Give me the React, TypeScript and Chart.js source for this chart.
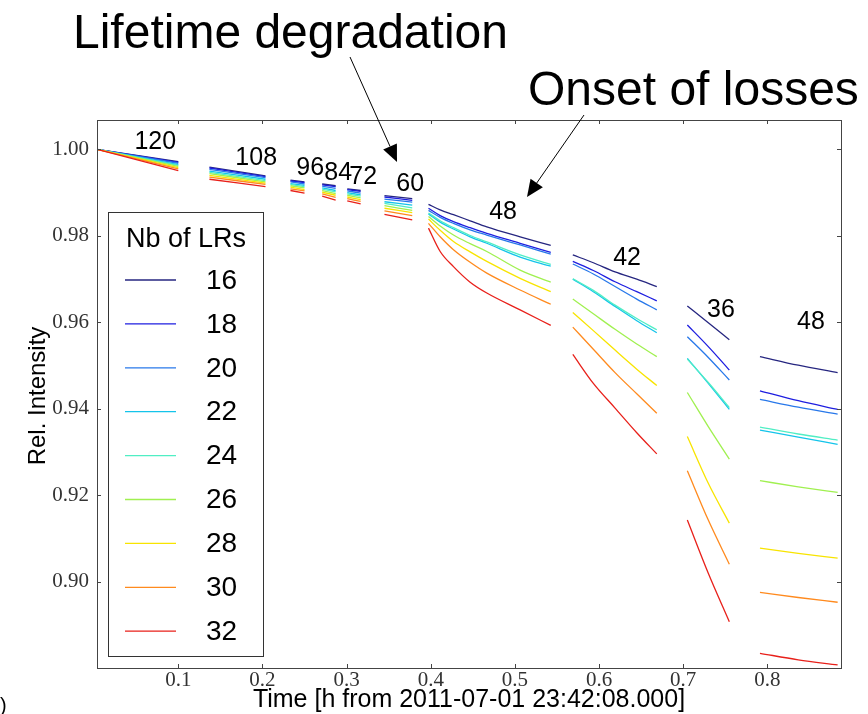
import React, { useEffect, useRef } from 'react';
import { Chart, registerables } from 'chart.js';

Chart.register(...registerables);

// ---------- data ----------
const lrCounts = ['16', '18', '20', '22', '24', '26', '28', '30', '32'];
const lrColors = ['#262680', '#1e1ee0', '#2878ea', '#14c4ea', '#50eec4', '#a0f050', '#f8e400', '#ff8a1e', '#e8201a'];

const xTicks = [0.1, 0.2, 0.3, 0.4, 0.5, 0.6, 0.7, 0.8];
const yTicks = [0.9, 0.92, 0.94, 0.96, 0.98, 1.0];

// time stamps of each fill segment (h)
const segmentTimes = [
  [0.0034, 0.1],
  [0.137, 0.2036],
  [0.2333, 0.25],
  [0.271, 0.287],
  [0.3008, 0.3167],
  [0.345, 0.378],
  [0.3973, 0.4112, 0.427, 0.4468, 0.4666, 0.5062, 0.5426],
  [0.5688, 0.5932, 0.619, 0.6448, 0.6686],
  [0.7049, 0.7298, 0.7548],
  [0.7912, 0.8367, 0.8835],
];

const lr16 = [[1.0, 0.9972], [0.9959, 0.9939], [0.9929, 0.9925], [0.992, 0.9916], [0.9909, 0.9905], [0.9893, 0.9886],
  [0.9873, 0.986, 0.9849, 0.9835, 0.9821, 0.9798, 0.9778], [0.9756, 0.9738, 0.9717, 0.97, 0.9683], [0.9638, 0.9599, 0.956], [0.9521, 0.9501, 0.9484]];
const lr18 = [[1.0, 0.997], [0.9957, 0.9937], [0.9927, 0.9923], [0.9918, 0.9914], [0.9907, 0.9903], [0.989, 0.9882],
  [0.9864, 0.9847, 0.9833, 0.9819, 0.9806, 0.9783, 0.9762], [0.9741, 0.972, 0.9694, 0.9671, 0.965], [0.9594, 0.9544, 0.949], [0.9442, 0.9419, 0.9399]];
const lr20 = [[1.0, 0.9968], [0.9954, 0.9935], [0.9925, 0.992], [0.9915, 0.991], [0.9904, 0.9899], [0.9885, 0.9878],
  [0.9859, 0.9843, 0.9829, 0.9814, 0.9802, 0.9779, 0.9758], [0.9735, 0.9712, 0.9683, 0.9654, 0.9629], [0.9567, 0.9519, 0.9467], [0.9422, 0.9404, 0.9388]];
const lr22 = [[1.0, 0.9965], [0.995, 0.9931], [0.9921, 0.9917], [0.9911, 0.9905], [0.99, 0.9895], [0.9879, 0.9871],
  [0.9851, 0.9832, 0.9816, 0.9798, 0.9783, 0.9751, 0.973], [0.97, 0.9671, 0.9637, 0.9604, 0.9576], [0.9517, 0.9459, 0.9399], [0.9351, 0.9335, 0.9318]];
const lr24 = [[1.0, 0.9963], [0.9947, 0.9928], [0.9919, 0.9914], [0.9908, 0.9902], [0.9897, 0.9892], [0.9875, 0.9865],
  [0.9853, 0.9835, 0.9819, 0.9801, 0.9786, 0.9756, 0.9734], [0.9701, 0.9674, 0.964, 0.9609, 0.9583], [0.9515, 0.9461, 0.9403], [0.9358, 0.9342, 0.9328]];
const lr26 = [[1.0, 0.9961], [0.9944, 0.9925], [0.9916, 0.9911], [0.9905, 0.9898], [0.9894, 0.9888], [0.987, 0.9859],
  [0.9845, 0.9823, 0.9802, 0.9782, 0.9764, 0.9721, 0.9693], [0.9654, 0.962, 0.9584, 0.955, 0.9521], [0.9438, 0.9359, 0.9284], [0.9234, 0.922, 0.9207]];
const lr28 = [[1.0, 0.9958], [0.994, 0.9922], [0.9913, 0.9907], [0.9901, 0.9894], [0.989, 0.9884], [0.9864, 0.9854],
  [0.9839, 0.9813, 0.9787, 0.9763, 0.9741, 0.9702, 0.9671], [0.9623, 0.9581, 0.9536, 0.9492, 0.9454], [0.9336, 0.9228, 0.9136], [0.9078, 0.9066, 0.9055]];
const lr30 = [[1.0, 0.9955], [0.9936, 0.9919], [0.9909, 0.9904], [0.9897, 0.9889], [0.9886, 0.988], [0.9858, 0.9847],
  [0.9829, 0.9798, 0.9768, 0.9739, 0.9714, 0.9675, 0.9642], [0.9589, 0.9538, 0.9484, 0.9435, 0.939], [0.9257, 0.9143, 0.9041], [0.8976, 0.8964, 0.8953]];
const lr32 = [[1.0, 0.9951], [0.9931, 0.9914], [0.9905, 0.9899], [0.9892, 0.9883], [0.9881, 0.9874], [0.985, 0.9837],
  [0.9818, 0.9764, 0.9729, 0.9693, 0.9668, 0.9629, 0.9593], [0.9526, 0.9459, 0.9402, 0.9345, 0.9296], [0.9143, 0.902, 0.8908], [0.8835, 0.882, 0.8808]];

const seriesValues = [lr16, lr18, lr20, lr22, lr24, lr26, lr28, lr30, lr32];

// number of bunches in each fill step
const segmentLabels = ['120', '108', '96', '84', '72', '60', '48', '42', '36', '48'];
const labelTimes = [0.0727, 0.1926, 0.2568, 0.2901, 0.3198, 0.3756, 0.486, 0.6333, 0.7449, 0.8518];
const labelValues = [1.0017, 0.998, 0.9957, 0.9946, 0.9936, 0.992, 0.9856, 0.9749, 0.9629, 0.9601];

const X_MIN = 0.0034;
const X_MAX = 0.8875;
const Y_MIN = 0.8801;
const Y_MAX = 1.0068;

const SANS = '"Liberation Sans", Arial, sans-serif';
const SERIF = '"Liberation Serif", "Times New Roman", serif';

function buildPoints(vals: number[][]) {
  const pts: { x: number; y: number | null }[] = [];
  vals.forEach((seg, s) => {
    if (s > 0) {
      const prev = segmentTimes[s - 1];
      pts.push({ x: (prev[prev.length - 1] + segmentTimes[s][0]) / 2, y: null });
    }
    seg.forEach((v, i) => pts.push({ x: segmentTimes[s][i], y: v }));
  });
  return pts;
}

function arrow(ctx: CanvasRenderingContext2D, x0: number, y0: number, x1: number, y1: number) {
  const ang = Math.atan2(y1 - y0, x1 - x0);
  const len = 17;
  const hw = 7.5;
  const bx = x1 - len * Math.cos(ang);
  const by = y1 - len * Math.sin(ang);
  ctx.save();
  ctx.strokeStyle = '#000';
  ctx.lineWidth = 1;
  ctx.beginPath();
  ctx.moveTo(x0, y0);
  ctx.lineTo(bx, by);
  ctx.stroke();
  ctx.fillStyle = '#000';
  ctx.beginPath();
  ctx.moveTo(x1, y1);
  ctx.lineTo(bx + hw * Math.sin(ang), by - hw * Math.cos(ang));
  ctx.lineTo(bx - hw * Math.sin(ang), by + hw * Math.cos(ang));
  ctx.closePath();
  ctx.fill();
  ctx.restore();
}

const decorPlugin = {
  id: 'decor',
  afterDraw(chart: any) {
    const { ctx, chartArea } = chart;
    const { left, right, top, bottom } = chartArea;
    const xs = chart.scales.x;
    const ys = chart.scales.y;
    ctx.save();

    // frame
    ctx.strokeStyle = '#444';
    ctx.lineWidth = 1;
    ctx.strokeRect(Math.round(left) + 0.5, Math.round(top) + 0.5, Math.round(right - left), Math.round(bottom - top));

    // inward ticks on all sides
    ctx.beginPath();
    xTicks.forEach((v) => {
      const px = Math.round(xs.getPixelForValue(v)) + 0.5;
      ctx.moveTo(px, bottom);
      ctx.lineTo(px, bottom - 4);
      ctx.moveTo(px, top);
      ctx.lineTo(px, top + 4);
    });
    yTicks.forEach((v) => {
      const py = Math.round(ys.getPixelForValue(v)) + 0.5;
      ctx.moveTo(left, py);
      ctx.lineTo(left + 4, py);
      ctx.moveTo(right, py);
      ctx.lineTo(right - 4, py);
    });
    ctx.stroke();

    // segment labels
    ctx.fillStyle = '#000';
    ctx.font = `25px ${SANS}`;
    ctx.textAlign = 'center';
    ctx.textBaseline = 'middle';
    segmentLabels.forEach((lab, i) => {
      ctx.fillText(lab, xs.getPixelForValue(labelTimes[i]), ys.getPixelForValue(labelValues[i]));
    });

    // legend
    const lx = 108.5, ly = 212.5, lw = 155, lh = 444;
    ctx.fillStyle = '#fff';
    ctx.fillRect(lx, ly, lw, lh);
    ctx.strokeStyle = '#333';
    ctx.strokeRect(lx, ly, lw, lh);
    ctx.fillStyle = '#000';
    ctx.font = `27px ${SANS}`;
    ctx.textAlign = 'center';
    ctx.textBaseline = 'middle';
    ctx.fillText('Nb of LRs', lx + lw / 2, 240);
    lrCounts.forEach((lab, i) => {
      const yy = 280 + i * 43.9;
      ctx.strokeStyle = lrColors[i];
      ctx.lineWidth = 1.3;
      ctx.beginPath();
      ctx.moveTo(125, yy);
      ctx.lineTo(176, yy);
      ctx.stroke();
      ctx.fillStyle = '#000';
      ctx.font = `28px ${SANS}`;
      ctx.textAlign = 'left';
      ctx.fillText(lab, 206, yy + 1);
    });

    // axis titles
    ctx.fillStyle = '#000';
    ctx.font = `25px ${SANS}`;
    ctx.textAlign = 'center';
    ctx.textBaseline = 'alphabetic';
    ctx.fillText('Time [h from 2011-07-01 23:42:08.000]', 469, 707);
    ctx.save();
    ctx.translate(38, 396);
    ctx.rotate(-Math.PI / 2);
    ctx.textBaseline = 'middle';
    ctx.font = `24px ${SANS}`;
    ctx.fillText('Rel. Intensity', 0, 0);
    ctx.restore();

    // annotations
    ctx.font = `48px ${SANS}`;
    ctx.textAlign = 'left';
    ctx.textBaseline = 'alphabetic';
    ctx.fillText('Lifetime degradation', 73, 48);
    ctx.fillText('Onset of losses', 528, 105);
    arrow(ctx, 350, 57, 397, 162);
    arrow(ctx, 584, 115, 527, 197);

    ctx.font = `20px ${SANS}`;
    ctx.fillText(')', 0, 712);
    ctx.restore();
  },
};

export default function App() {
  const canvasRef = useRef<HTMLCanvasElement | null>(null);

  useEffect(() => {
    const canvas = canvasRef.current;
    if (!canvas) return;
    const datasets = seriesValues.map((vals, i) => ({
      label: lrCounts[i],
      data: buildPoints(vals),
      borderColor: lrColors[i],
      backgroundColor: lrColors[i],
      borderWidth: 1.3,
      pointRadius: 0,
      fill: false,
      spanGaps: false,
      cubicInterpolationMode: 'monotone' as const,
      order: 9 - i,
    }));
    const chart = new Chart(canvas, {
      type: 'line',
      data: { datasets },
      options: {
        animation: false,
        responsive: false,
        events: [],
        layout: { padding: { top: 120, right: 27, left: 0, bottom: 0 } },
        plugins: { legend: { display: false }, tooltip: { enabled: false } },
        scales: {
          x: {
            type: 'linear',
            min: X_MIN,
            max: X_MAX,
            grid: { display: false, drawTicks: false },
            border: { display: false },
            afterBuildTicks: (s: any) => {
              s.ticks = xTicks.map((v) => ({ value: v }));
            },
            afterFit: (s: any) => {
              s.height = 46;
            },
            ticks: {
              autoSkip: false,
              maxRotation: 0,
              padding: 0,
              color: '#333',
              font: { family: SERIF, size: 21 },
              callback: (v: any) => Number(v).toFixed(1),
            },
          },
          y: {
            type: 'linear',
            min: Y_MIN,
            max: Y_MAX,
            grid: { display: false, drawTicks: false },
            border: { display: false },
            afterBuildTicks: (s: any) => {
              s.ticks = yTicks.map((v) => ({ value: v }));
            },
            afterFit: (s: any) => {
              s.width = 97;
            },
            ticks: {
              autoSkip: false,
              padding: 8,
              color: '#333',
              font: { family: SERIF, size: 21 },
              callback: (v: any) => Number(v).toFixed(2),
            },
          },
        },
      },
      plugins: [decorPlugin],
    });
    return () => chart.destroy();
  }, []);

  return (
    <div style={{ position: 'fixed', left: 0, top: 0, width: 868, height: 714, background: '#fff' }}>
      <canvas ref={canvasRef} width={868} height={714} style={{ width: 868, height: 714, display: 'block' }} />
    </div>
  );
}
